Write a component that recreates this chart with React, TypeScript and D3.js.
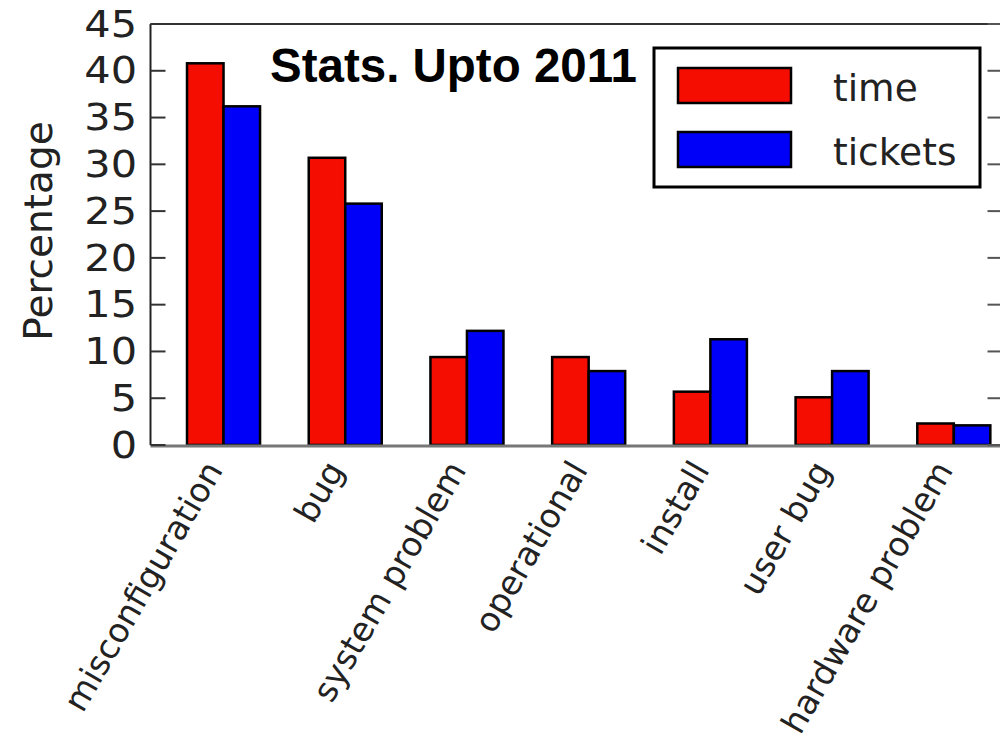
import React from "react";
import * as d3 from "d3";

const categories = ["misconfiguration", "bug", "system problem", "operational", "install", "user bug", "hardware problem"];
const timeValues = [40.8, 30.7, 9.4, 9.4, 5.7, 5.1, 2.3];
const ticketValues = [36.2, 25.8, 12.2, 7.9, 11.3, 7.9, 2.1];
const seriesNames = ["time", "tickets"];
const seriesColors = ["#f40d00", "#0000f8"];
const yTicks = [0, 5, 10, 15, 20, 25, 30, 35, 40, 45];
const title = "Stats. Upto 2011";
const yLabel = "Percentage";

const W = 1000;
const H = 742;
const left = 150.5;
const right = 1002.5;
const top = 24;
const bottom = 445;
const barW = 0.3;

export default function App() {
  const x = d3.scaleLinear().domain([-0.3, 6.7]).range([left, right]);
  const y = d3.scaleLinear().domain([0, 45]).range([bottom, top]);
  const series = [timeValues, ticketValues];
  const font = "'DejaVu Sans', sans-serif";

  return (
    <svg width={W} height={H} style={{ position: "absolute", left: 0, top: 0, background: "#fff" }}>
      <rect x={0} y={0} width={W} height={H} fill="#fff" />
      {/* bars */}
      {series.map((vals, s) =>
        vals.map((v, i) => (
          <rect
            key={`${s}-${i}`}
            x={x(i + s * barW)}
            y={y(v)}
            width={x(barW) - x(0)}
            height={y(0) - y(v)}
            fill={seriesColors[s]}
            stroke="#000"
            strokeWidth={2.5}
          />
        ))
      )}
      {/* spines */}
      <line x1={left} x2={left} y1={top} y2={bottom} stroke="#222" strokeWidth={2} />
      <line x1={left} x2={right} y1={top} y2={top} stroke="#333" strokeWidth={2} />
      <line x1={right} x2={right} y1={top} y2={bottom} stroke="#333" strokeWidth={2} />
      <line x1={left} x2={right} y1={bottom + 1} y2={bottom + 1} stroke="#777" strokeWidth={3} />
      {/* y ticks */}
      {yTicks.map((t) => (
        <g key={t}>
          <line x1={left} x2={left + 15} y1={y(t)} y2={y(t)} stroke="#333" strokeWidth={2} />
          <line x1={right - 15} x2={right} y1={y(t)} y2={y(t)} stroke="#555" strokeWidth={2} />
          <text
            transform={`translate(137,${y(t)}) scale(1.12,1)`}
            textAnchor="end"
            dominantBaseline="central"
            fontFamily={font}
            fontSize={37}
            fill="#222"
          >
            {t}
          </text>
        </g>
      ))}
      {/* x labels */}
      {categories.map((c, i) => (
        <text
          key={c}
          transform={`translate(${x(i + barW)},${470}) rotate(-60)`}
          textAnchor="end"
          fontFamily={font}
          fontSize={33.5}
          fill="#222"
        >
          {c}
        </text>
      ))}
      {/* y label */}
      <text
        transform={`translate(38,231) rotate(-90)`}
        textAnchor="middle"
        dominantBaseline="central"
        fontFamily={font}
        fontSize={39}
        fill="#222"
      >
        {yLabel}
      </text>
      {/* title */}
      <text x={270} y={82} fontFamily="'Liberation Sans', Arial, sans-serif" fontWeight="bold" fontSize={47.5} fill="#000">
        {title}
      </text>
      {/* legend */}
      <rect x={654} y={48} width={326} height={139} fill="#fff" stroke="#000" strokeWidth={3} />
      {seriesNames.map((n, s) => (
        <g key={n}>
          <rect x={678} y={68 + s * 64} width={113} height={35} fill={seriesColors[s]} stroke="#000" strokeWidth={2.5} />
          <text x={833} y={101 + s * 64} fontFamily={font} fontSize={37.5} fill="#222">
            {n}
          </text>
        </g>
      ))}
    </svg>
  );
}
